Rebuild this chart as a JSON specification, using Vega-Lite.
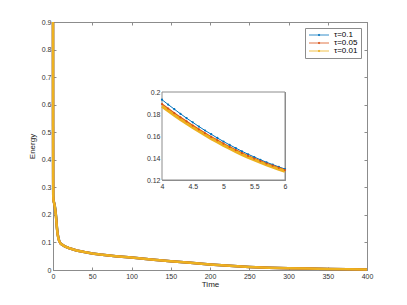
{
  "$schema": "https://vega.github.io/schema/vega-lite/v6.json",
  "width": 314,
  "height": 248,
  "autosize": "none",
  "padding": {"left": 53, "top": 22, "right": 40, "bottom": 35},
  "background": "white",
  "config": {
    "font": "Liberation Sans",
    "view": {"stroke": "#8c8c8c", "strokeWidth": 1},
    "axis": {
      "domainColor": "#8c8c8c", "tickColor": "#8c8c8c", "labelColor": "#333333",
      "labelFontSize": 7, "titleFontSize": 8, "titleFontWeight": "normal", "titleColor": "#222222",
      "grid": false, "tickSize": -3, "labelPadding": 5, "labelFlush": false, "labelOverlap": false,
      "domainWidth": 1, "tickWidth": 1
    }
  },
  "datasets": {
    "main": [
      {"t": 0, "E": 0.9, "tau": "τ=0.1"}, {"t": 0.05, "E": 0.7, "tau": "τ=0.1"}, {"t": 0.1, "E": 0.52, "tau": "τ=0.1"}, {"t": 0.2, "E": 0.33, "tau": "τ=0.1"}, {"t": 0.3, "E": 0.27, "tau": "τ=0.1"}, {"t": 0.5, "E": 0.255, "tau": "τ=0.1"}, {"t": 1, "E": 0.248, "tau": "τ=0.1"}, {"t": 2, "E": 0.238, "tau": "τ=0.1"}, {"t": 3, "E": 0.22, "tau": "τ=0.1"}, {"t": 4, "E": 0.193, "tau": "τ=0.1"}, {"t": 5, "E": 0.155, "tau": "τ=0.1"}, {"t": 6, "E": 0.13, "tau": "τ=0.1"}, {"t": 7, "E": 0.115, "tau": "τ=0.1"}, {"t": 8, "E": 0.105, "tau": "τ=0.1"}, {"t": 10, "E": 0.095, "tau": "τ=0.1"}, {"t": 15, "E": 0.086, "tau": "τ=0.1"}, {"t": 20, "E": 0.08, "tau": "τ=0.1"}, {"t": 30, "E": 0.071, "tau": "τ=0.1"}, {"t": 40, "E": 0.065, "tau": "τ=0.1"}, {"t": 50, "E": 0.06, "tau": "τ=0.1"}, {"t": 60, "E": 0.056, "tau": "τ=0.1"}, {"t": 80, "E": 0.05, "tau": "τ=0.1"}, {"t": 100, "E": 0.045, "tau": "τ=0.1"}, {"t": 125, "E": 0.038, "tau": "τ=0.1"}, {"t": 150, "E": 0.032, "tau": "τ=0.1"}, {"t": 175, "E": 0.026, "tau": "τ=0.1"}, {"t": 200, "E": 0.02, "tau": "τ=0.1"}, {"t": 225, "E": 0.015, "tau": "τ=0.1"}, {"t": 250, "E": 0.011, "tau": "τ=0.1"}, {"t": 275, "E": 0.008, "tau": "τ=0.1"}, {"t": 300, "E": 0.006, "tau": "τ=0.1"}, {"t": 325, "E": 0.005, "tau": "τ=0.1"}, {"t": 350, "E": 0.004, "tau": "τ=0.1"}, {"t": 375, "E": 0.003, "tau": "τ=0.1"}, {"t": 400, "E": 0.002, "tau": "τ=0.1"},
      {"t": 0, "E": 0.9, "tau": "τ=0.05"}, {"t": 0.05, "E": 0.7, "tau": "τ=0.05"}, {"t": 0.1, "E": 0.52, "tau": "τ=0.05"}, {"t": 0.2, "E": 0.33, "tau": "τ=0.05"}, {"t": 0.3, "E": 0.27, "tau": "τ=0.05"}, {"t": 0.5, "E": 0.255, "tau": "τ=0.05"}, {"t": 1, "E": 0.248, "tau": "τ=0.05"}, {"t": 2, "E": 0.236, "tau": "τ=0.05"}, {"t": 3, "E": 0.217, "tau": "τ=0.05"}, {"t": 4, "E": 0.189, "tau": "τ=0.05"}, {"t": 5, "E": 0.153, "tau": "τ=0.05"}, {"t": 6, "E": 0.129, "tau": "τ=0.05"}, {"t": 7, "E": 0.114, "tau": "τ=0.05"}, {"t": 8, "E": 0.104, "tau": "τ=0.05"}, {"t": 10, "E": 0.095, "tau": "τ=0.05"}, {"t": 15, "E": 0.086, "tau": "τ=0.05"}, {"t": 20, "E": 0.08, "tau": "τ=0.05"}, {"t": 30, "E": 0.071, "tau": "τ=0.05"}, {"t": 40, "E": 0.065, "tau": "τ=0.05"}, {"t": 50, "E": 0.06, "tau": "τ=0.05"}, {"t": 60, "E": 0.056, "tau": "τ=0.05"}, {"t": 80, "E": 0.05, "tau": "τ=0.05"}, {"t": 100, "E": 0.045, "tau": "τ=0.05"}, {"t": 125, "E": 0.038, "tau": "τ=0.05"}, {"t": 150, "E": 0.032, "tau": "τ=0.05"}, {"t": 175, "E": 0.026, "tau": "τ=0.05"}, {"t": 200, "E": 0.02, "tau": "τ=0.05"}, {"t": 225, "E": 0.015, "tau": "τ=0.05"}, {"t": 250, "E": 0.011, "tau": "τ=0.05"}, {"t": 275, "E": 0.008, "tau": "τ=0.05"}, {"t": 300, "E": 0.006, "tau": "τ=0.05"}, {"t": 325, "E": 0.005, "tau": "τ=0.05"}, {"t": 350, "E": 0.004, "tau": "τ=0.05"}, {"t": 375, "E": 0.003, "tau": "τ=0.05"}, {"t": 400, "E": 0.002, "tau": "τ=0.05"},
      {"t": 0, "E": 0.9, "tau": "τ=0.01"}, {"t": 0.05, "E": 0.7, "tau": "τ=0.01"}, {"t": 0.1, "E": 0.52, "tau": "τ=0.01"}, {"t": 0.2, "E": 0.33, "tau": "τ=0.01"}, {"t": 0.3, "E": 0.27, "tau": "τ=0.01"}, {"t": 0.5, "E": 0.255, "tau": "τ=0.01"}, {"t": 1, "E": 0.248, "tau": "τ=0.01"}, {"t": 2, "E": 0.235, "tau": "τ=0.01"}, {"t": 3, "E": 0.215, "tau": "τ=0.01"}, {"t": 4, "E": 0.187, "tau": "τ=0.01"}, {"t": 5, "E": 0.1515, "tau": "τ=0.01"}, {"t": 6, "E": 0.128, "tau": "τ=0.01"}, {"t": 7, "E": 0.113, "tau": "τ=0.01"}, {"t": 8, "E": 0.104, "tau": "τ=0.01"}, {"t": 10, "E": 0.095, "tau": "τ=0.01"}, {"t": 15, "E": 0.086, "tau": "τ=0.01"}, {"t": 20, "E": 0.08, "tau": "τ=0.01"}, {"t": 30, "E": 0.071, "tau": "τ=0.01"}, {"t": 40, "E": 0.065, "tau": "τ=0.01"}, {"t": 50, "E": 0.06, "tau": "τ=0.01"}, {"t": 60, "E": 0.056, "tau": "τ=0.01"}, {"t": 80, "E": 0.05, "tau": "τ=0.01"}, {"t": 100, "E": 0.045, "tau": "τ=0.01"}, {"t": 125, "E": 0.038, "tau": "τ=0.01"}, {"t": 150, "E": 0.032, "tau": "τ=0.01"}, {"t": 175, "E": 0.026, "tau": "τ=0.01"}, {"t": 200, "E": 0.02, "tau": "τ=0.01"}, {"t": 225, "E": 0.015, "tau": "τ=0.01"}, {"t": 250, "E": 0.011, "tau": "τ=0.01"}, {"t": 275, "E": 0.008, "tau": "τ=0.01"}, {"t": 300, "E": 0.006, "tau": "τ=0.01"}, {"t": 325, "E": 0.005, "tau": "τ=0.01"}, {"t": 350, "E": 0.004, "tau": "τ=0.01"}, {"t": 375, "E": 0.003, "tau": "τ=0.01"}, {"t": 400, "E": 0.002, "tau": "τ=0.01"}
    ],
    "inset": [
      {"t": 4.0, "E": 0.193, "tau": "τ=0.1"}, {"t": 4.1, "E": 0.1886, "tau": "τ=0.1"}, {"t": 4.2, "E": 0.1844, "tau": "τ=0.1"}, {"t": 4.3, "E": 0.1802, "tau": "τ=0.1"}, {"t": 4.4, "E": 0.1762, "tau": "τ=0.1"}, {"t": 4.5, "E": 0.1724, "tau": "τ=0.1"}, {"t": 4.6, "E": 0.1686, "tau": "τ=0.1"}, {"t": 4.7, "E": 0.165, "tau": "τ=0.1"}, {"t": 4.8, "E": 0.1616, "tau": "τ=0.1"}, {"t": 4.9, "E": 0.1582, "tau": "τ=0.1"}, {"t": 5.0, "E": 0.155, "tau": "τ=0.1"}, {"t": 5.1, "E": 0.1519, "tau": "τ=0.1"}, {"t": 5.2, "E": 0.149, "tau": "τ=0.1"}, {"t": 5.3, "E": 0.1461, "tau": "τ=0.1"}, {"t": 5.4, "E": 0.1434, "tau": "τ=0.1"}, {"t": 5.5, "E": 0.1409, "tau": "τ=0.1"}, {"t": 5.6, "E": 0.1384, "tau": "τ=0.1"}, {"t": 5.7, "E": 0.1361, "tau": "τ=0.1"}, {"t": 5.8, "E": 0.134, "tau": "τ=0.1"}, {"t": 5.9, "E": 0.1319, "tau": "τ=0.1"}, {"t": 6.0, "E": 0.13, "tau": "τ=0.1"},
      {"t": 4.0, "E": 0.189, "tau": "τ=0.05"}, {"t": 4.1, "E": 0.1849, "tau": "τ=0.05"}, {"t": 4.2, "E": 0.1808, "tau": "τ=0.05"}, {"t": 4.3, "E": 0.1769, "tau": "τ=0.05"}, {"t": 4.4, "E": 0.1732, "tau": "τ=0.05"}, {"t": 4.5, "E": 0.1695, "tau": "τ=0.05"}, {"t": 4.6, "E": 0.166, "tau": "τ=0.05"}, {"t": 4.7, "E": 0.1625, "tau": "τ=0.05"}, {"t": 4.8, "E": 0.1592, "tau": "τ=0.05"}, {"t": 4.9, "E": 0.1561, "tau": "τ=0.05"}, {"t": 5.0, "E": 0.153, "tau": "τ=0.05"}, {"t": 5.1, "E": 0.1501, "tau": "τ=0.05"}, {"t": 5.2, "E": 0.1472, "tau": "τ=0.05"}, {"t": 5.3, "E": 0.1445, "tau": "τ=0.05"}, {"t": 5.4, "E": 0.1419, "tau": "τ=0.05"}, {"t": 5.5, "E": 0.1395, "tau": "τ=0.05"}, {"t": 5.6, "E": 0.1372, "tau": "τ=0.05"}, {"t": 5.7, "E": 0.135, "tau": "τ=0.05"}, {"t": 5.8, "E": 0.133, "tau": "τ=0.05"}, {"t": 5.9, "E": 0.1311, "tau": "τ=0.05"}, {"t": 6.0, "E": 0.129, "tau": "τ=0.05"},
      {"t": 4.0, "E": 0.187, "tau": "τ=0.01"}, {"t": 4.1, "E": 0.1829, "tau": "τ=0.01"}, {"t": 4.2, "E": 0.1789, "tau": "τ=0.01"}, {"t": 4.3, "E": 0.1751, "tau": "τ=0.01"}, {"t": 4.4, "E": 0.1714, "tau": "τ=0.01"}, {"t": 4.5, "E": 0.1678, "tau": "τ=0.01"}, {"t": 4.6, "E": 0.1643, "tau": "τ=0.01"}, {"t": 4.7, "E": 0.1609, "tau": "τ=0.01"}, {"t": 4.8, "E": 0.1576, "tau": "τ=0.01"}, {"t": 4.9, "E": 0.1545, "tau": "τ=0.01"}, {"t": 5.0, "E": 0.1515, "tau": "τ=0.01"}, {"t": 5.1, "E": 0.1486, "tau": "τ=0.01"}, {"t": 5.2, "E": 0.1458, "tau": "τ=0.01"}, {"t": 5.3, "E": 0.1431, "tau": "τ=0.01"}, {"t": 5.4, "E": 0.1405, "tau": "τ=0.01"}, {"t": 5.5, "E": 0.1383, "tau": "τ=0.01"}, {"t": 5.6, "E": 0.136, "tau": "τ=0.01"}, {"t": 5.7, "E": 0.1338, "tau": "τ=0.01"}, {"t": 5.8, "E": 0.1317, "tau": "τ=0.01"}, {"t": 5.9, "E": 0.1298, "tau": "τ=0.01"}, {"t": 6.0, "E": 0.128, "tau": "τ=0.01"}
    ]
  },
  "layer": [
    {
      "data": {"name": "main"},
      "encoding": {
        "x": {"field": "t", "type": "quantitative", "scale": {"domain": [0, 400], "nice": false, "zero": false},
              "axis": {"orient": "bottom", "values": [0, 50, 100, 150, 200, 250, 300, 350, 400], "title": "Time", "titlePadding": 1}},
        "y": {"field": "E", "type": "quantitative", "scale": {"domain": [0, 0.9], "nice": false},
              "axis": {"orient": "left", "values": [0, 0.1, 0.2, 0.3, 0.4, 0.5, 0.6, 0.7, 0.8, 0.9], "format": "~g", "title": "Energy", "titlePadding": 5}},
        "color": {"field": "tau", "type": "nominal",
                  "scale": {"domain": ["τ=0.1", "τ=0.05", "τ=0.01"], "range": ["#0072BD", "#D95319", "#EDB120"]},
                  "legend": {"title": null, "orient": "top-right", "offset": 6, "padding": 3,
                             "strokeColor": "#8c8c8c", "fillColor": "white", "labelFontSize": 8, "labelColor": "#000000",
                             "symbolType": "M-1,0L5.67,0M2.1,0A0.25,0.25,0,1,1,2.6,0A0.25,0.25,0,1,1,2.1,0Z",
                             "symbolSize": 36, "symbolStrokeWidth": 0.8, "rowPadding": -1.5, "labelOffset": 18}}
      },
      "layer": [
        {"mark": {"type": "line", "strokeWidth": 2.5}},
        {"mark": {"type": "line", "opacity": 0},
         "encoding": {
           "x": {"field": "t", "type": "quantitative", "axis": {"orient": "top", "labels": false, "title": null, "values": [0, 50, 100, 150, 200, 250, 300, 350, 400]}},
           "y": {"field": "E", "type": "quantitative", "axis": {"orient": "right", "labels": false, "title": null, "values": [0, 0.1, 0.2, 0.3, 0.4, 0.5, 0.6, 0.7, 0.8, 0.9]}}
         }}
      ]
    },
    {
      "layer": [
        {
          "data": {"values": [{}]},
          "mark": {"type": "rect", "fill": "white", "stroke": "#8c8c8c", "strokeWidth": 1},
          "encoding": {
            "x": {"datum": 4, "type": "quantitative", "axis": {"orient": "top", "labels": false, "title": null, "offset": -70, "values": [4, 4.5, 5, 5.5, 6]}},
            "x2": {"datum": 6},
            "y": {"datum": 0.12, "type": "quantitative", "axis": {"orient": "right", "labels": false, "title": null, "offset": -82, "values": [0.12, 0.14, 0.16, 0.18, 0.2]}},
            "y2": {"datum": 0.2}
          }
        },
        {
          "data": {"name": "inset"},
          "transform": [{"filter": "datum.tau == 'τ=0.1'"}],
          "mark": {"type": "line", "strokeWidth": 1},
          "encoding": {
            "x": {"field": "t", "type": "quantitative", "scale": {"domain": [4, 6], "range": [109, 232], "nice": false, "zero": false},
                  "axis": {"orient": "bottom", "offset": -90, "title": null, "values": [4, 4.5, 5, 5.5, 6], "format": "~g"}},
            "y": {"field": "E", "type": "quantitative", "scale": {"domain": [0.12, 0.2], "range": [158, 70], "nice": false, "zero": false},
                  "axis": {"orient": "left", "offset": -109, "title": null, "values": [0.12, 0.14, 0.16, 0.18, 0.2], "format": "~g"}},
            "color": {"field": "tau", "type": "nominal"}
          }
        },
        {
          "data": {"name": "inset"},
          "transform": [{"filter": "datum.tau == 'τ=0.05'"}],
          "mark": {"type": "line", "strokeWidth": 1.6},
          "encoding": {
            "x": {"field": "t", "type": "quantitative", "axis": null},
            "y": {"field": "E", "type": "quantitative", "axis": null},
            "color": {"field": "tau", "type": "nominal"}
          }
        },
        {
          "data": {"name": "inset"},
          "transform": [{"filter": "datum.tau == 'τ=0.01'"}],
          "mark": {"type": "line", "strokeWidth": 3},
          "encoding": {
            "x": {"field": "t", "type": "quantitative", "axis": null},
            "y": {"field": "E", "type": "quantitative", "axis": null},
            "color": {"field": "tau", "type": "nominal"}
          }
        },
        {
          "data": {"name": "inset"},
          "transform": [{"filter": "datum.tau != 'τ=0.01'"}],
          "mark": {"type": "point", "filled": true, "size": 5, "opacity": 1},
          "encoding": {
            "x": {"field": "t", "type": "quantitative", "axis": null},
            "y": {"field": "E", "type": "quantitative", "axis": null},
            "color": {"field": "tau", "type": "nominal"}
          }
        }
      ]
    }
  ],
  "resolve": {"scale": {"x": "independent", "y": "independent"}, "axis": {"x": "independent", "y": "independent"}}
}
